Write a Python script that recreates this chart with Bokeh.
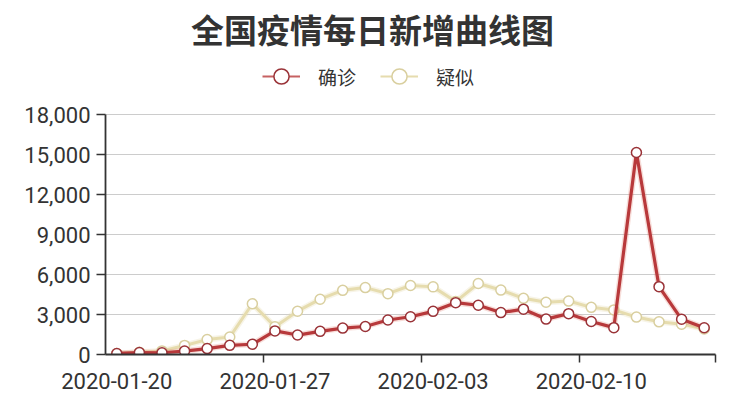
from bokeh.plotting import figure
from bokeh.models import (FixedTicker, NumeralTickFormatter, Legend, LegendItem,
                          ColumnDataSource, Label)
from bokeh.embed import file_html
from bokeh.resources import INLINE

dates = ["2020-01-20", "2020-01-21", "2020-01-22", "2020-01-23", "2020-01-24",
         "2020-01-25", "2020-01-26", "2020-01-27", "2020-01-28", "2020-01-29",
         "2020-01-30", "2020-01-31", "2020-02-01", "2020-02-02", "2020-02-03",
         "2020-02-04", "2020-02-05", "2020-02-06", "2020-02-07", "2020-02-08",
         "2020-02-09", "2020-02-10", "2020-02-11", "2020-02-12", "2020-02-13",
         "2020-02-14", "2020-02-15"]
confirmed = [77, 149, 131, 259, 444, 688, 769, 1771, 1459, 1737, 1982, 2102,
             2590, 2829, 3235, 3887, 3694, 3143, 3399, 2656, 3062, 2478, 2015,
             15152, 5090, 2641, 2009]
suspected = [70, 170, 270, 680, 1118, 1309, 3806, 2077, 3248, 4148, 4812, 5019,
             4562, 5173, 5072, 3971, 5328, 4833, 4214, 3916, 4008, 3536, 3342,
             2807, 2450, 2277, 1918]
y_ticks = [0, 3000, 6000, 9000, 12000, 15000, 18000]
y_max = 18000
label_every = 7
title_text = "全国疫情每日新增曲线图"
names = ["确诊", "疑似"]

RED = "#b8393b"
RED_EDGE = "#9a3338"
BEIGE = "#e6dcae"
BEIGE_EDGE = "#d9cf9f"

idx = list(range(len(dates)))
src = ColumnDataSource(dict(x=idx, c=confirmed, s=suspected))

# frame spans the whole height down to the x axis (354px); 0..18000 uses the
# bottom 240px, the space above holds the title and the legend
FRAME_H = 354
PLOT_H = 240
y_top = y_max * FRAME_H / PLOT_H

p = figure(width=728, height=396, output_backend="svg", toolbar_location=None,
           x_range=(-0.5, len(dates) - 0.5), y_range=(0, y_top),
           min_border_left=105, min_border_right=13, min_border_top=0,
           min_border_bottom=42)
p.outline_line_color = None
p.background_fill_color = "white"

# title, placed in the empty band above the data area
px_per_day = 610 / len(dates)
title = Label(x=-0.5 + (372 - 105) / px_per_day,
              y=y_max * (FRAME_H - 28) / PLOT_H,
              text=title_text, text_align="center", text_baseline="middle",
              text_font_size="33px", text_font_style="bold",
              text_color="#333333", text_font="Noto Sans CJK SC")
p.add_layout(title)

# suspected series (drawn first, under)
p.line("x", "s", source=src, line_color=BEIGE, line_width=6, line_alpha=0.3)
p.line("x", "s", source=src, line_color=BEIGE, line_width=3)
p.scatter("x", "s", source=src, size=10, fill_color="white",
          line_color=BEIGE_EDGE, line_width=1.5)

# confirmed series
p.line("x", "c", source=src, line_color="#e07a6a", line_width=6, line_alpha=0.25)
p.line("x", "c", source=src, line_color=RED, line_width=3.2)
p.scatter("x", "c", source=src, size=10, fill_color="white",
          line_color=RED_EDGE, line_width=1.5)

# legend-only renderers (their points lie outside the visible ranges)
off = ColumnDataSource(dict(x=[-5, -4], y=[-5000, -5000]))
lr = p.line("x", "y", source=off, line_color=RED, line_width=1.8, line_alpha=0.8)
sr = p.scatter("x", "y", source=off, size=15, fill_color="white",
               line_color=RED_EDGE, line_width=1.5)
lb = p.line("x", "y", source=off, line_color=BEIGE, line_width=1.8)
sb = p.scatter("x", "y", source=off, size=15, fill_color="white",
               line_color=BEIGE_EDGE, line_width=1.5)
legend = Legend(items=[LegendItem(label=names[0], renderers=[lr, sr], index=0),
                       LegendItem(label=names[1], renderers=[lb, sb], index=0)],
                orientation="horizontal", location=(157, FRAME_H - 76 - 19),
                glyph_width=38, glyph_height=38, label_standoff=18, spacing=24,
                label_text_font_size="19px", label_text_color="#333333",
                label_text_font="Noto Sans CJK SC",
                border_line_color=None, background_fill_alpha=0,
                margin=0, padding=0)
p.add_layout(legend, "center")

# axes
p.xgrid.grid_line_color = None
p.ygrid.grid_line_color = "#cccccc"
p.ygrid.grid_line_width = 1.2
p.ygrid.ticker = FixedTicker(ticks=y_ticks)

p.yaxis.ticker = FixedTicker(ticks=y_ticks)
p.yaxis.bounds = (0, y_max)
p.yaxis.formatter = NumeralTickFormatter(format="0,0")
p.yaxis.axis_line_color = "#333333"
p.yaxis.axis_line_width = 1.8
p.yaxis.major_tick_line_color = "#333333"
p.yaxis.major_tick_line_width = 1.5
p.yaxis.major_tick_out = 9
p.yaxis.major_tick_in = 0
p.yaxis.minor_tick_line_color = None
p.yaxis.major_label_text_font_size = "22px"
p.yaxis.major_label_text_color = "#333333"
p.yaxis.major_label_text_font = "Roboto"
p.yaxis.major_label_standoff = 6

major = idx[::label_every]
bounds = [i - 0.5 for i in major[1:]] + [len(dates) - 0.5]
p.xaxis.ticker = FixedTicker(ticks=major, minor_ticks=bounds)
p.xaxis.major_label_overrides = {i: dates[i] for i in major}
p.xaxis.axis_line_color = "#333333"
p.xaxis.axis_line_width = 1.8
p.xaxis.major_tick_line_color = None
p.xaxis.major_tick_out = 0
p.xaxis.major_tick_in = 0
p.xaxis.minor_tick_line_color = "#333333"
p.xaxis.minor_tick_line_width = 1.5
p.xaxis.minor_tick_out = 8
p.xaxis.minor_tick_in = 0
p.xaxis.major_label_text_font_size = "22px"
p.xaxis.major_label_text_color = "#333333"
p.xaxis.major_label_text_font = "Roboto"
p.xaxis.major_label_standoff = 10

open("out.html", "w").write(file_html(p, INLINE))
